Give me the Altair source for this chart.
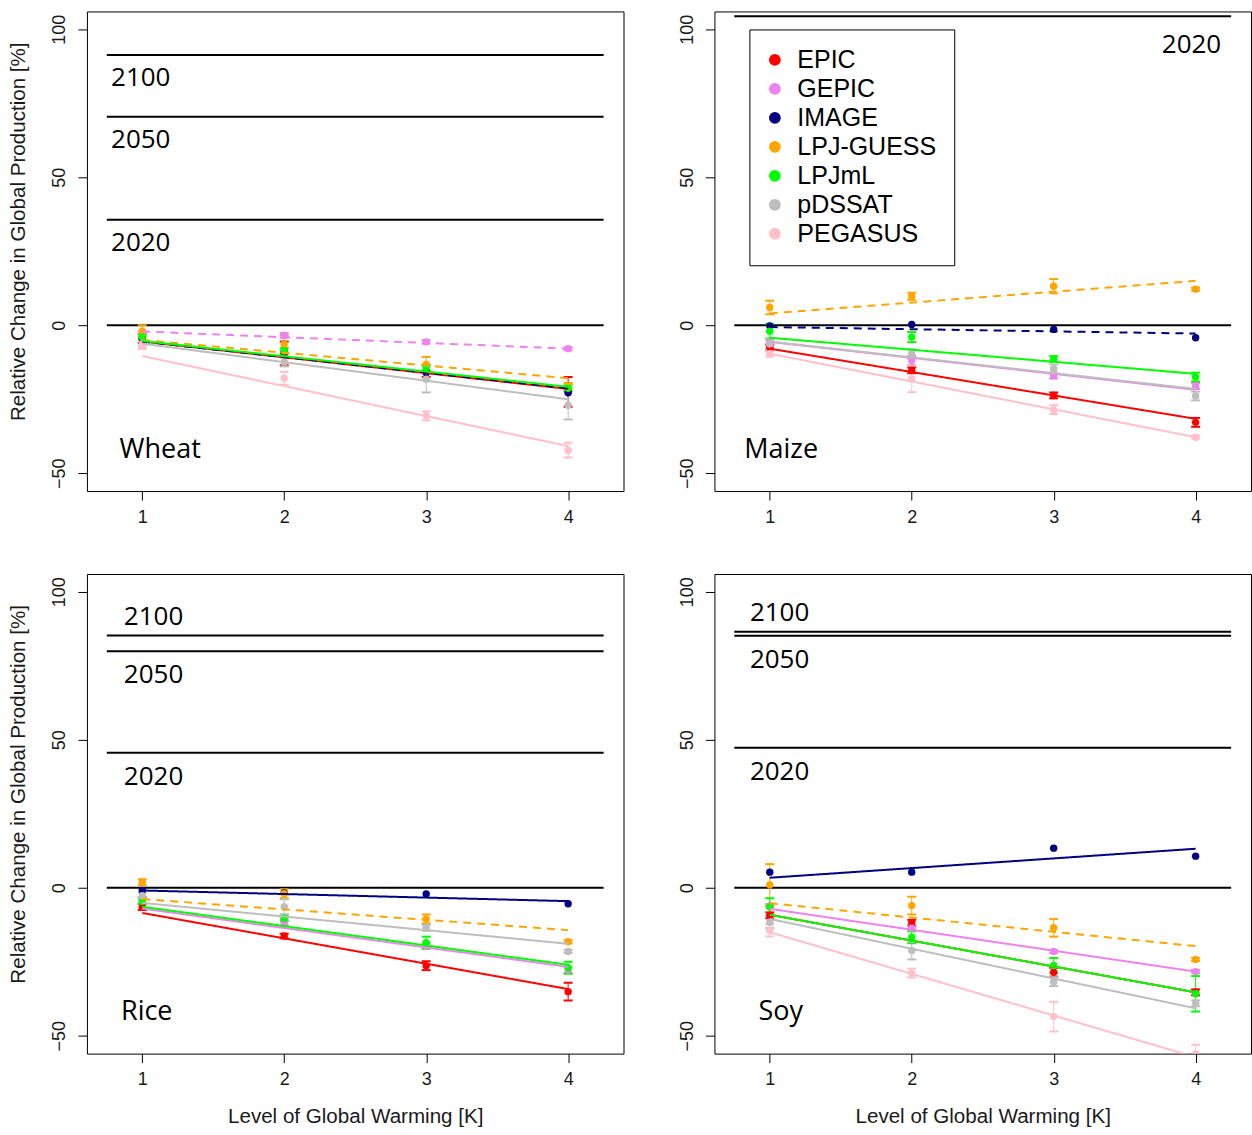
import altair as alt
import pandas as pd

MODELS = ["EPIC", "GEPIC", "IMAGE", "LPJ-GUESS", "LPJmL", "pDSSAT", "PEGASUS"]
COLORS = ["#FF0000", "#EE82EE", "#000080", "#FFA500", "#00FF00", "#BEBEBE", "#FFC0CB"]
WARMING = [1, 2, 3, 4]
XLIM = [0.75, 4.25]
YLIM = [-50, 100]
Y_TICKS = [-50, 0, 50, 100]
X_TITLE = "Level of Global Warming [K]"
Y_TITLE = "Relative Change in Global Production [%]"

# ---------------- Wheat ----------------
WHEAT_MEAN = {
    "EPIC": [-4.5, -9.5, -15.5, -22.5],
    "GEPIC": [-2.5, -3.4, -5.6, -7.9],
    "IMAGE": [-4.5, -8.8, -16.0, -22.8],
    "LPJ-GUESS": [-2.0, -6.4, -13.2, -20.5],
    "LPJmL": [-4.0, -8.7, -14.3, -21.3],
    "pDSSAT": [-6.2, -12.4, -18.2, -27.0],
    "PEGASUS": [-6.5, -17.9, -30.6, -42.2],
}
WHEAT_ERR = {
    "EPIC": [1.5, 4.0, 2.0, 5.0],
    "GEPIC": [0.5, 0.8, 0.6, 0.5],
    "IMAGE": [0, 0, 0, 0],
    "LPJ-GUESS": [2.0, 3.0, 2.5, 1.0],
    "LPJmL": [1.0, 1.0, 1.0, 1.0],
    "pDSSAT": [1.0, 1.5, 4.5, 4.8],
    "PEGASUS": [1.5, 2.2, 1.5, 2.5],
}
WHEAT_FIT = {  # fitted change at 1 K and 4 K
    "EPIC": [-5.5, -21.5],
    "GEPIC": [-2.1, -7.9],
    "IMAGE": [-5.5, -21.3],
    "LPJ-GUESS": [-5.0, -17.9],
    "LPJmL": [-5.3, -20.8],
    "pDSSAT": [-6.2, -25.0],
    "PEGASUS": [-10.4, -40.8],
}
WHEAT_DASHED = ["GEPIC", "IMAGE", "LPJ-GUESS"]
WHEAT_DEMAND = [91.3, 70.4, 35.6]
WHEAT_DEMAND_LABELS = ["2100", "2050", "2020"]
WHEAT_LABEL_ABOVE = [False, False, False]

# ---------------- Maize ----------------
MAIZE_MEAN = {
    "EPIC": [-7.5, -15.2, -23.7, -32.8],
    "GEPIC": [-5.9, -11.9, -17.0, -20.5],
    "IMAGE": [-0.2, 0.3, -1.4, -4.2],
    "LPJ-GUESS": [6.0, 9.8, 13.2, 12.2],
    "LPJmL": [-2.0, -4.0, -11.4, -17.5],
    "pDSSAT": [-6.3, -9.6, -14.7, -23.9],
    "PEGASUS": [-9.6, -18.1, -28.5, -37.8],
}
MAIZE_ERR = {
    "EPIC": [1.0, 1.0, 1.0, 1.5],
    "GEPIC": [1.0, 1.5, 1.0, 1.0],
    "IMAGE": [0, 0, 0, 0],
    "LPJ-GUESS": [2.3, 1.2, 2.4, 0.5],
    "LPJmL": [2.5, 1.7, 1.0, 1.5],
    "pDSSAT": [1.5, 1.5, 1.5, 1.5],
    "PEGASUS": [1.0, 4.5, 1.5, 0.5],
}
MAIZE_FIT = {
    "EPIC": [-7.9, -31.6],
    "GEPIC": [-5.6, -21.8],
    "IMAGE": [-0.6, -2.8],
    "LPJ-GUESS": [4.0, 15.0],
    "LPJmL": [-4.2, -16.4],
    "pDSSAT": [-5.5, -21.5],
    "PEGASUS": [-9.6, -37.8],
}
MAIZE_DASHED = ["IMAGE", "LPJ-GUESS"]
MAIZE_DEMAND = [104.4]
MAIZE_DEMAND_LABELS = ["2020"]
MAIZE_LABEL_ABOVE = [False]

# ---------------- Rice ----------------
RICE_MEAN = {
    "EPIC": [-6.5, -16.3, -26.3, -35.1],
    "GEPIC": [-4.1, -11.6, -19.6, -27.8],
    "IMAGE": [-0.9, -1.7, -2.1, -5.4],
    "LPJ-GUESS": [1.9, -2.0, -10.5, -18.2],
    "LPJmL": [-4.5, -10.3, -18.5, -27.0],
    "pDSSAT": [-2.7, -6.4, -13.5, -21.5],
}
RICE_ERR = {
    "EPIC": [1.0, 0.8, 1.5, 3.0],
    "GEPIC": [1.0, 1.0, 1.0, 1.0],
    "IMAGE": [0, 0, 0, 0],
    "LPJ-GUESS": [1.0, 1.5, 1.5, 0.5],
    "LPJmL": [1.0, 1.0, 2.0, 2.0],
    "pDSSAT": [1.0, 2.5, 1.0, 0.5],
}
RICE_FIT = {
    "EPIC": [-8.5, -34.2],
    "GEPIC": [-7.0, -26.7],
    "IMAGE": [-0.9, -4.5],
    "LPJ-GUESS": [-3.8, -14.3],
    "LPJmL": [-6.4, -26.0],
    "pDSSAT": [-5.1, -18.9],
}
RICE_DASHED = ["LPJ-GUESS"]
RICE_DEMAND = [85.2, 79.9, 45.6]
RICE_DEMAND_LABELS = ["2100", "2050", "2020"]
RICE_LABEL_ABOVE = [True, False, False]

# ---------------- Soy ----------------
SOY_MEAN = {
    "EPIC": [-9.3, -11.8, -28.5, -35.3],
    "GEPIC": [-6.0, -13.6, -21.5, -28.3],
    "IMAGE": [5.3, 5.3, 13.4, 10.7],
    "LPJ-GUESS": [1.0, -6.0, -13.5, -24.2],
    "LPJmL": [-6.5, -16.7, -26.2, -35.8],
    "pDSSAT": [-11.6, -21.2, -31.7, -39.0],
    "PEGASUS": [-14.4, -28.8, -43.5, -56.0],
}
SOY_ERR = {
    "EPIC": [1.0, 1.0, 1.5, 1.0],
    "GEPIC": [0.5, 0.5, 0.5, 0.5],
    "IMAGE": [0, 0, 0, 0],
    "LPJ-GUESS": [7.0, 3.0, 3.0, 0.5],
    "LPJmL": [3.0, 2.0, 2.5, 6.0],
    "pDSSAT": [2.0, 3.0, 1.5, 1.0],
    "PEGASUS": [2.0, 1.5, 5.0, 3.0],
}
SOY_FIT = {
    "EPIC": [-9.1, -35.3],
    "GEPIC": [-7.1, -28.3],
    "IMAGE": [3.4, 13.2],
    "LPJ-GUESS": [-5.2, -19.7],
    "LPJmL": [-9.1, -35.3],
    "pDSSAT": [-10.5, -40.7],
    "PEGASUS": [-15.0, -57.2],
}
SOY_DASHED = ["LPJ-GUESS"]
SOY_DEMAND = [86.5, 85.1, 47.3]
SOY_DEMAND_LABELS = ["2100", "2050", "2020"]
SOY_LABEL_ABOVE = [True, False, False]


def pad_domain(lim):
    d = (lim[1] - lim[0]) * 0.04
    return [lim[0] - d, lim[1] + d]


XDOM = pad_domain(XLIM)
YDOM = pad_domain(YLIM)
LABEL_FONT = "Open Sans"
AXIS_FONT = "Liberation Sans"
HEX = dict(zip(MODELS, COLORS))


def build_points(mean, err):
    rows = []
    for m in MODELS:
        if m not in mean:
            continue
        for i, w in enumerate(WARMING):
            v = mean[m][i]
            e = err[m][i]
            rows.append(dict(model=m, hex=HEX[m], warming=w, value=v,
                             lo=v - e, hi=v + e, err=e))
    return pd.DataFrame(rows)


def build_fits(fit, dashed):
    rows = []
    for m in MODELS:
        if m not in fit:
            continue
        style = "dashed" if m in dashed else "solid"
        for w, v in zip([WARMING[0], WARMING[-1]], fit[m]):
            rows.append(dict(model=m, hex=HEX[m], warming=w, value=v, style=style))
    return pd.DataFrame(rows)


def panel(crop, mean, err, fit, dashed, demand, demand_labels, above,
          label_x, label_align, below_dy, name_x, xtitle, ytitle, legend):
    pts = build_points(mean, err)
    errs = pts[pts["err"] > 0]
    fits = build_fits(fit, dashed)
    refs = pd.DataFrame({"value": [0] + demand, "x0": XLIM[0], "x1": XLIM[1]})
    labs = pd.DataFrame({"value": demand, "text": demand_labels, "above": above, "lx": label_x})
    labs_below = labs[~labs["above"]]
    labs_above = labs[labs["above"]]
    name = pd.DataFrame({"text": [crop], "lx": [name_x], "value": [-42]})

    xs = alt.Scale(domain=XDOM, nice=False, zero=False)
    ys = alt.Scale(domain=YDOM, nice=False, zero=False)
    xax = alt.Axis(values=WARMING, format="d", title=xtitle, labelPadding=8,
                   titlePadding=18)
    yax = alt.Axis(values=Y_TICKS, title=ytitle, labelAngle=270, labelAlign="center",
                   labelBaseline="alphabetic", labelPadding=13, titlePadding=22,
                   titleY=220)
    cscale = alt.Scale(domain=MODELS, range=COLORS)

    def X(f):
        return alt.X(f, type="quantitative", scale=xs, axis=xax)

    def Y(f):
        return alt.Y(f, type="quantitative", scale=ys, axis=yax)

    layers = []
    layers.append(alt.Chart(refs).mark_rule(color="black", strokeWidth=2).encode(
        x=X("x0"), x2=alt.X2("x1"), y=Y("value")))
    if len(labs_below):
        layers.append(alt.Chart(labs_below).mark_text(
            align=label_align, baseline="middle", dy=below_dy, font=LABEL_FONT,
            fontSize=26, color="black").encode(x=X("lx"), y=Y("value"), text="text:N"))
    if len(labs_above):
        layers.append(alt.Chart(labs_above).mark_text(
            align=label_align, baseline="middle", dy=-19, font=LABEL_FONT,
            fontSize=26, color="black").encode(x=X("lx"), y=Y("value"), text="text:N"))
    layers.append(alt.Chart(name).mark_text(
        align="left", baseline="middle", font=LABEL_FONT, fontSize=27,
        color="black").encode(x=X("lx"), y=Y("value"), text="text:N"))
    layers.append(alt.Chart(errs).mark_rule(strokeWidth=1, clip=True).encode(
        x=X("warming"), y=Y("lo"), y2=alt.Y2("hi"),
        stroke=alt.Stroke("hex:N", scale=None)))
    layers.append(alt.Chart(errs).transform_fold(["lo", "hi"], as_=["end", "cap"]).mark_tick(
        orient="horizontal", size=9, thickness=2, clip=True, opacity=1).encode(
        x=X("warming"), y=Y("cap"), fill=alt.Fill("hex:N", scale=None)))
    layers.append(alt.Chart(pts).mark_circle(size=55, opacity=1, clip=True).encode(
        x=X("warming"), y=Y("value"),
        color=alt.Color("model:N", scale=cscale, legend=legend)))
    layers.append(alt.Chart(fits).mark_line(strokeWidth=2, clip=True).encode(
        x=X("warming"), y=Y("value"), stroke=alt.Stroke("hex:N", scale=None),
        strokeDash=alt.StrokeDash("style:N", scale=alt.Scale(
            domain=["solid", "dashed"], range=[[1, 0], [8, 6]]), legend=None),
        detail="model:N"))
    return alt.layer(*layers).properties(width=537, height=480)


maize_legend = alt.Legend(
    orient="none", legendX=35, legendY=18, title=None, symbolType="circle",
    symbolSize=140, symbolStrokeWidth=0, symbolOpacity=1, symbolOffset=-5,
    labelFont=AXIS_FONT, labelFontSize=25, labelColor="black", labelOffset=10,
    padding=18, rowPadding=3, strokeColor="black", fillColor="white")

p_wheat = panel("Wheat", WHEAT_MEAN, WHEAT_ERR, WHEAT_FIT, WHEAT_DASHED, WHEAT_DEMAND,
                WHEAT_DEMAND_LABELS, WHEAT_LABEL_ABOVE, 0.78, "left", 23, 0.84,
                None, Y_TITLE, None)
p_maize = panel("Maize", MAIZE_MEAN, MAIZE_ERR, MAIZE_FIT, MAIZE_DASHED, MAIZE_DEMAND,
                MAIZE_DEMAND_LABELS, MAIZE_LABEL_ABOVE, 4.18, "right", 29, 0.82,
                None, None, maize_legend)
p_rice = panel("Rice", RICE_MEAN, RICE_ERR, RICE_FIT, RICE_DASHED, RICE_DEMAND,
               RICE_DEMAND_LABELS, RICE_LABEL_ABOVE, 0.87, "left", 24, 0.85,
               X_TITLE, Y_TITLE, None)
p_soy = panel("Soy", SOY_MEAN, SOY_ERR, SOY_FIT, SOY_DASHED, SOY_DEMAND,
              SOY_DEMAND_LABELS, SOY_LABEL_ABOVE, 0.86, "left", 24, 0.92,
              X_TITLE, None, None)

row1 = alt.hconcat(p_wheat, p_maize, spacing=53).resolve_scale(color="independent")
row2 = alt.hconcat(p_rice, p_soy, spacing=53).resolve_scale(color="independent")

chart = alt.vconcat(row1, row2, spacing=46).resolve_scale(
    color="independent"
).configure_view(
    stroke="black", strokeWidth=1
).configure_axis(
    domain=False, grid=False, tickColor="black", tickSize=9, tickWidth=1,
    labelFont=AXIS_FONT, labelFontSize=18, labelColor="#1a1a1a",
    titleFont=AXIS_FONT, titleFontSize=20.6, titleFontWeight="normal", titleColor="#1a1a1a"
).properties(
    padding={"left": 8, "top": 10, "right": 0, "bottom": 5}, background="white"
)

chart.save("out.html", embed_options={"renderer": "svg", "actions": False})
